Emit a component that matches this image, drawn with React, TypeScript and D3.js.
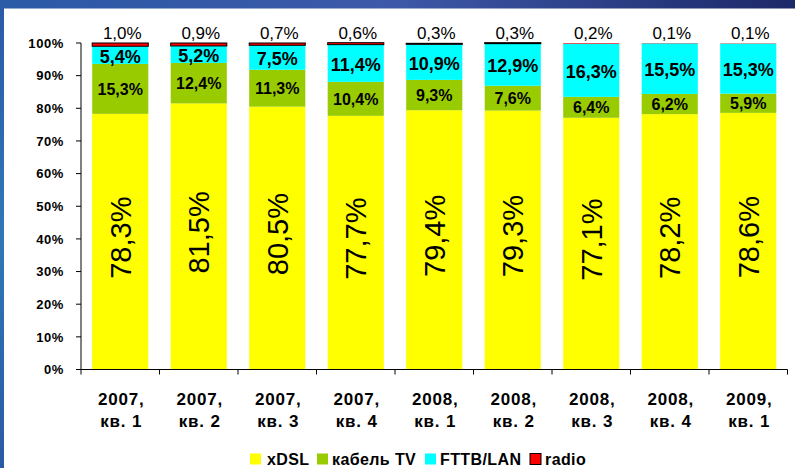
import React from "react";
import * as d3 from "d3";

// categories (two-line tick labels)
const years = ["2007,", "2007,", "2007,", "2007,", "2008,", "2008,", "2008,", "2008,", "2009,"];
const quarters = ["кв. 1", "кв. 2", "кв. 3", "кв. 4", "кв. 1", "кв. 2", "кв. 3", "кв. 4", "кв. 1"];
const categories = years.map((y, i) => y + " " + quarters[i] + " #" + i);

// series values, %
const xdsl = [78.3, 81.5, 80.5, 77.7, 79.4, 79.3, 77.1, 78.2, 78.6];
const cable = [15.3, 12.4, 11.3, 10.4, 9.3, 7.6, 6.4, 6.2, 5.9];
const fttb = [5.4, 5.2, 7.5, 11.4, 10.9, 12.9, 16.3, 15.5, 15.3];
const radio = [1.0, 0.9, 0.7, 0.6, 0.3, 0.3, 0.2, 0.1, 0.1];

const seriesNames = ["xDSL", "кабель TV", "FTTB/LAN", "radio"];
const seriesColors = ["#ffff00", "#99cc00", "#00ffff", "#ff0000"];
const yTicks = [0, 10, 20, 30, 40, 50, 60, 70, 80, 90, 100];

const W = 795;
const H = 468;
const FONT = "'Liberation Sans', Arial, sans-serif";

const pct = (v: number) => d3.format(".1f")(v).replace(".", ",") + "%";

export default function App() {
  const table = categories.map((c, i) => ({
    cat: c,
    xdsl: xdsl[i],
    cable: cable[i],
    fttb: fttb[i],
    radio: radio[i],
  }));
  const keys = ["xdsl", "cable", "fttb", "radio"];
  const stacked = d3.stack<any>().keys(keys)(table);

  const x = d3.scaleBand().domain(categories).range([81, 787.5]).paddingInner(0.285).paddingOuter(0.1425);
  const y = d3.scaleLinear().domain([0, 100]).range([369.5, 43]);

  const x0 = x.range()[0];
  const boundaries = d3.range(categories.length + 1).map((i) => x0 + i * x.step());

  // legend positions (square, text)
  const legendSq = [250, 317, 425, 530];
  const legendTx = [267, 332, 440, 545];

  return (
    <svg width={W} height={H} style={{ position: "absolute", left: 0, top: 0 }} fontFamily={FONT}>
      <defs>
        <linearGradient id="topBand" x1="0" x2="1" y1="0" y2="0">
          <stop offset="0" stopColor="#2b5aa6" />
          <stop offset="0.5" stopColor="#3d58a8" />
          <stop offset="1" stopColor="#1d2868" />
        </linearGradient>
        <linearGradient id="leftBand" x1="0" x2="0" y1="0" y2="1">
          <stop offset="0" stopColor="#2b5aa6" />
          <stop offset="0.5" stopColor="#2e78b8" />
          <stop offset="1" stopColor="#2a5aa4" />
        </linearGradient>
      </defs>
      <rect x={0} y={0} width={W} height={H} fill="#ffffff" />
      <rect x={0} y={0} width={W} height={8.5} fill="url(#topBand)" />
      <rect x={0} y={0} width={4} height={H} fill="url(#leftBand)" />

      {/* bars */}
      {stacked.map((s, si) =>
        s.map((d, i) => {
          const top = y(d[1]);
          const h = y(d[0]) - y(d[1]);
          const isRadio = si === 3;
          return (
            <rect
              key={si + "-" + i}
              x={x(categories[i])}
              y={top}
              width={x.bandwidth()}
              height={h}
              fill={seriesColors[si]}
              stroke={isRadio && h > 0.8 ? "#000" : "none"}
              strokeWidth={1}
            />
          );
        })
      )}

      {/* axes */}
      <line x1={81} x2={81} y1={y(100)} y2={y(0)} stroke="#000" />
      <line x1={81} x2={boundaries[boundaries.length - 1]} y1={y(0)} y2={y(0)} stroke="#000" />
      {yTicks.map((t) => (
        <g key={t}>
          <line x1={76} x2={81} y1={y(t)} y2={y(t)} stroke="#000" />
          <text x={64} y={y(t)} dy="0.36em" textAnchor="end" fontSize={13} fontWeight="bold" letterSpacing={0.6}>
            {t}%
          </text>
        </g>
      ))}
      {boundaries.map((b, i) => (
        <line key={i} x1={b} x2={b} y1={y(0)} y2={y(0) + 5} stroke="#000" />
      ))}
      {categories.map((c, i) => {
        const cx = (x(c) as number) + x.bandwidth() / 2;
        return (
          <text key={c} x={cx} textAnchor="middle" fontSize={17} fontWeight="bold" letterSpacing={0.8}>
            <tspan x={cx + 1} y={405}>{years[i]}</tspan>
            <tspan x={cx + 1} y={427}>{quarters[i]}</tspan>
          </text>
        );
      })}

      {/* value labels */}
      {stacked.map((s, si) =>
        s.map((d, i) => {
          const cx = (x(categories[i]) as number) + x.bandwidth() / 2;
          const mid = (y(d[0]) + y(d[1])) / 2;
          const v = d[1] - d[0];
          const key = "l" + si + "-" + i;
          if (si === 0) {
            return (
              <text
                key={key}
                transform={`translate(${cx},${mid - 4}) rotate(-90)`}
                textAnchor="middle"
                dy="0.36em"
                fontSize={29}
              >
                {pct(v)}
              </text>
            );
          }
          if (si === 1) {
            return (
              <text key={key} x={cx} y={mid} dy="0.36em" textAnchor="middle" fontSize={16} fontWeight="bold">
                {pct(v)}
              </text>
            );
          }
          if (si === 2) {
            return (
              <text key={key} x={cx} y={mid + 1} dy="0.36em" textAnchor="middle" fontSize={18} fontWeight="bold">
                {pct(v)}
              </text>
            );
          }
          return (
            <text key={key} x={cx + 2} y={39} textAnchor="middle" fontSize={17}>
              {pct(radio[i])}
            </text>
          );
        })
      )}

      {/* legend */}
      {seriesNames.map((n, i) => (
        <g key={n}>
          <rect
            x={legendSq[i]}
            y={453.5}
            width={11}
            height={11}
            fill={seriesColors[i]}
            stroke={i === 3 ? "#000" : "none"}
          />
          <text x={legendTx[i]} y={465} fontSize={16} fontWeight="bold" letterSpacing={0.4}>
            {n}
          </text>
        </g>
      ))}
    </svg>
  );
}
